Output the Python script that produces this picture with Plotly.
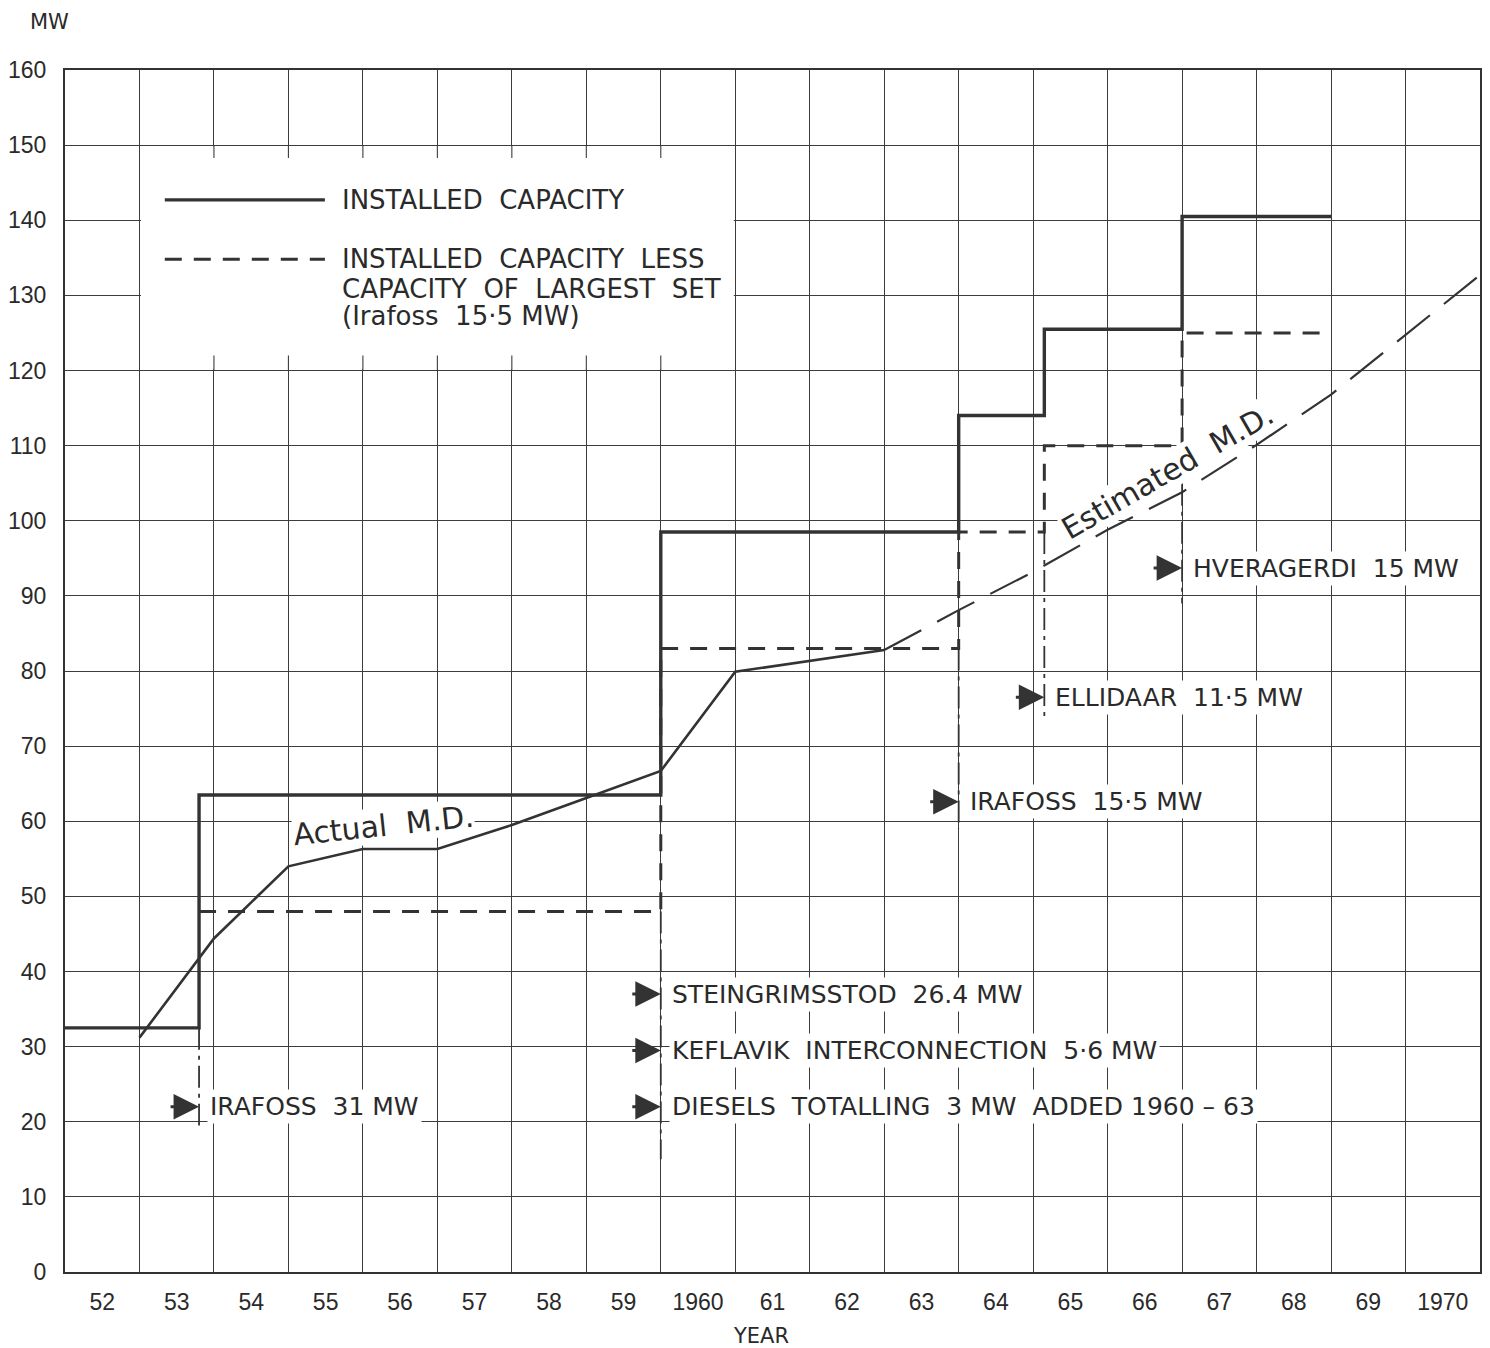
import plotly.graph_objects as go

# ---- axes -------------------------------------------------------------
year_start = 1952
year_end = 1971
year_labels = ["52", "53", "54", "55", "56", "57", "58", "59", "1960", "61",
               "62", "63", "64", "65", "66", "67", "68", "69", "1970"]
mw_ticks = list(range(0, 161, 10))

# ---- installed capacity --------------------------------------------------
base_capacity = 32.5                      # MW in service at start of 1952
step_years = [1953.8, 1960.0, 1964.0, 1965.15, 1967.0]
step_added = [31.0, 26.4 + 5.6 + 3.0, 15.5, 11.5, 15.0]
capacity_end_year = 1969.0
largest_set = 15.5                        # Irafoss unit

# ---- maximum demand -------------------------------------------------------
actual_years = [1953.0, 1954.0, 1955.0, 1956.0, 1957.0, 1958.0, 1959.0,
                1960.0, 1961.0, 1962.0, 1963.0]
actual_md = [31.2, 44.4, 54.0, 56.3, 56.3, 59.5, 63.1, 66.7, 79.9, 81.3, 82.8]

estimated_years = [1963.0, 1964.0, 1965.0, 1966.0, 1967.0, 1968.0, 1969.0,
                   1970.0, 1971.0]
estimated_md = [82.8, 88.1, 93.2, 98.8, 103.8, 110.1, 116.8, 124.7, 132.7]

# ---- plant notes: text, year of the step it points to, MW level ----------
note_texts = ["IRAFOSS  31 MW",
              "STEINGRIMSSTOD  26.4 MW",
              "KEFLAVIK  INTERCONNECTION  5·6 MW",
              "DIESELS  TOTALLING  3 MW  ADDED 1960 – 63",
              "IRAFOSS  15·5 MW",
              "ELLIDAAR  11·5 MW",
              "HVERAGERDI  15 MW"]
note_years = [1953.8, 1960.0, 1960.0, 1960.0, 1964.0, 1965.15, 1967.0]
note_levels = [22.0, 37.0, 29.5, 22.0, 62.6, 76.5, 93.7]
leader_bottoms = [19.5, 15.0, 59.0, 73.5, 89.0]

# ---- key ------------------------------------------------------------------
key_lines = ["INSTALLED  CAPACITY",
             "INSTALLED  CAPACITY  LESS",
             "CAPACITY  OF  LARGEST  SET",
             "(Irafoss  15·5 MW)"]
key_levels = [142.7, 134.8, 130.9, 127.3]

INK = "#333333"
GRID = "#3c3c3c"
FONT = "DejaVu Sans"
TEXT = "#2a2a2a"

# cumulative installed capacity after each addition
installed = [base_capacity]
for a in step_added:
    installed.append(round(installed[-1] + a, 2))
installed_x = [year_start] + step_years + [capacity_end_year]
installed_y = installed + [installed[-1]]

less_x = step_years + [capacity_end_year]
less_y = [v - largest_set for v in installed[1:]] + [installed[-1] - largest_set]

fig = go.Figure()

fig.add_trace(go.Scatter(
    x=installed_x, y=installed_y, mode="lines", line_shape="hv",
    line=dict(color=INK, width=3.4), hoverinfo="skip", showlegend=False))

fig.add_trace(go.Scatter(
    x=less_x, y=less_y, mode="lines", line_shape="hv",
    line=dict(color=INK, width=3, dash="17px,12px"),
    hoverinfo="skip", showlegend=False))

# leader lines from each step down to its note
for i, yr in enumerate(step_years):
    top = installed[i] - (largest_set if i > 0 else 0.0)
    fig.add_trace(go.Scatter(
        x=[yr, yr], y=[top, leader_bottoms[i]], mode="lines",
        line=dict(color=INK, width=1.8, dash="22px,6px,4px,6px"),
        hoverinfo="skip", showlegend=False))

fig.add_trace(go.Scatter(
    x=actual_years, y=actual_md, mode="lines",
    line=dict(color=INK, width=2.6), hoverinfo="skip", showlegend=False))

fig.add_trace(go.Scatter(
    x=estimated_years, y=estimated_md, mode="lines",
    line=dict(color=INK, width=2.2, dash="42px,18px"),
    hoverinfo="skip", showlegend=False))

shapes = []
# white key panel over the grid
kx0, kx1, ky0, ky1 = 1953.0, 1961.0, 120.0, 150.0
shapes.append(dict(type="rect", xref="x", yref="y", x0=kx0 + 0.02, x1=kx1 - 0.02,
                   y0=ky0 + 0.15, y1=ky1 - 0.15, layer="between",
                   fillcolor="white", line=dict(width=0)))
for gx in range(int(kx0) + 1, int(kx1)):
    shapes.append(dict(type="line", xref="x", yref="y", x0=gx, x1=gx,
                       y0=ky1, y1=ky1 - 1.7, layer="between",
                       line=dict(color=GRID, width=1.1)))
    shapes.append(dict(type="line", xref="x", yref="y", x0=gx, x1=gx,
                       y0=ky0, y1=ky0 + 2.0, layer="between",
                       line=dict(color=GRID, width=1.1)))
# key samples
shapes.append(dict(type="line", xref="x", yref="y", x0=1953.34, x1=1955.49,
                   y0=key_levels[0], y1=key_levels[0],
                   line=dict(color=INK, width=3.2)))
shapes.append(dict(type="line", xref="x", yref="y", x0=1953.34, x1=1955.49,
                   y0=key_levels[1], y1=key_levels[1],
                   line=dict(color=INK, width=3, dash="17px,12px")))

annotations = []
txt_font = dict(family=FONT, size=25, color=TEXT)
key_font = dict(family=FONT, size=26, color=TEXT)
for t, lv in zip(key_lines, key_levels):
    annotations.append(dict(x=1955.69, y=lv, xref="x", yref="y", xanchor="left",
                            yanchor="middle", showarrow=False, text=t,
                            font=key_font))

for t, yr, lv in zip(note_texts, note_years, note_levels):
    annotations.append(dict(x=yr, y=lv, xref="x", yref="y", ax=-30, ay=0,
                            text="", showarrow=True, arrowhead=2, arrowsize=1.7,
                            arrowwidth=3, arrowcolor=INK, standoff=0))
    annotations.append(dict(x=yr, y=lv, xref="x", yref="y", xanchor="left",
                            yanchor="middle", xshift=8, showarrow=False, text=t,
                            font=txt_font, bgcolor="white", borderpad=2))

annotations.append(dict(x=1956.27, y=59.4, xref="x", yref="y", showarrow=False,
                        text="Actual  M.D.", textangle=-6, bgcolor="white",
                        borderpad=0,
                        font=dict(family=FONT, size=30, color=TEXT)))
annotations.append(dict(x=1966.8, y=106.6, xref="x", yref="y", showarrow=False,
                        text="Estimated  M.D.", textangle=-30, bgcolor="white",
                        borderpad=0,
                        font=dict(family=FONT, size=30, color=TEXT)))

annotations.append(dict(x=0, y=1, xref="paper", yref="paper", xanchor="center",
                        yanchor="middle", xshift=-16, yshift=48,
                        showarrow=False, text="MW",
                        font=dict(family=FONT, size=21, color=TEXT)))
annotations.append(dict(x=1961.35, y=0, xref="x", yref="paper",
                        xanchor="center", yanchor="middle", yshift=-64,
                        showarrow=False, text="YEAR",
                        font=dict(family=FONT, size=21, color=TEXT)))

fig.update_layout(
    width=1490, height=1348,
    margin=dict(l=65, r=8, t=70, b=76),
    paper_bgcolor="white", plot_bgcolor="white",
    shapes=shapes, annotations=annotations,
    showlegend=False,
)

tick_font = dict(family="Liberation Sans Narrow, Liberation Sans", size=23, color=TEXT)
fig.update_xaxes(
    range=[year_start, year_end],
    tickmode="array",
    tickvals=[year_start + 0.5 + i for i in range(len(year_labels))],
    ticktext=year_labels,
    ticks="", showgrid=False, zeroline=False,
    ticklabelstandoff=8,
    tickfont=tick_font,
    minor=dict(tickmode="linear", tick0=year_start, dtick=1, showgrid=True,
               gridcolor=GRID, gridwidth=1.1, ticks=""),
    showline=True, mirror=True, linecolor=INK, linewidth=2,
)
fig.update_yaxes(
    range=[0, 160], tickmode="array", tickvals=mw_ticks,
    ticktext=[str(v) for v in mw_ticks],
    ticks="", showgrid=True, gridcolor=GRID, gridwidth=1.1, zeroline=False,
    ticklabelstandoff=12,
    tickfont=tick_font,
    showline=True, mirror=True, linecolor=INK, linewidth=2,
)

fig.write_html("out.html")
